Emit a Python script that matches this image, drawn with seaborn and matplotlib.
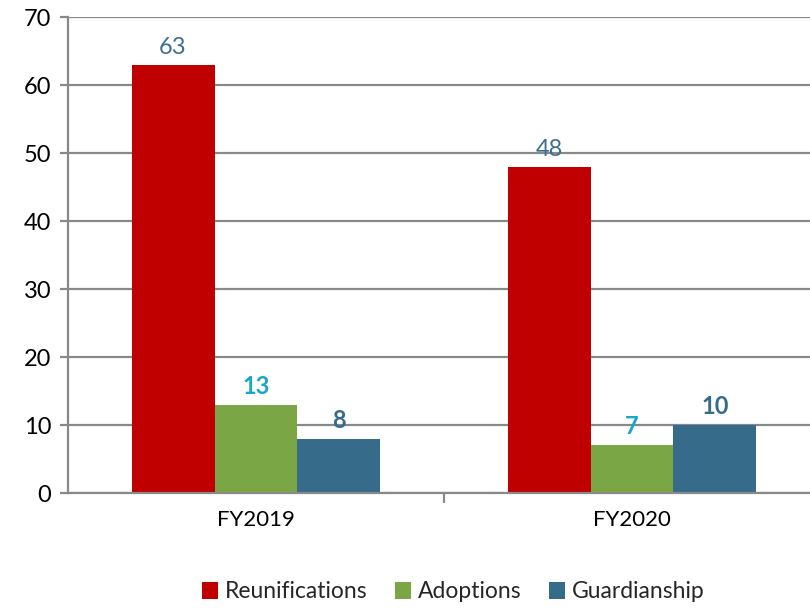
import matplotlib
matplotlib.use("Agg")
import matplotlib.pyplot as plt
import seaborn as sns
import pandas as pd
from matplotlib.patches import Patch

years = ["FY2019", "FY2020"]
series = ["Reunifications", "Adoptions", "Guardianship"]
reunifications = [63, 48]
adoptions = [13, 7]
guardianship = [8, 10]

colors = {"Reunifications": "#C00000", "Adoptions": "#7BA645", "Guardianship": "#376B8A"}
label_styles = {
    "Reunifications": dict(color="#3C6F8F", weight="normal"),
    "Adoptions": dict(color="#1AA6CC", weight="bold"),
    "Guardianship": dict(color="#376B8A", weight="bold"),
}

rows = []
for s, vals in zip(series, [reunifications, adoptions, guardianship]):
    for y, v in zip(years, vals):
        rows.append({"Year": y, "Series": s, "Value": v})
df = pd.DataFrame(rows)

sns.set_theme(style="white")
plt.rcParams["font.family"] = ["Lato", "DejaVu Sans"]

fig = plt.figure(figsize=(8.1, 6.08), dpi=100)
ax = fig.add_axes([68 / 810, 115 / 608, 752 / 810, 476 / 608])

sns.barplot(data=df, x="Year", y="Value", hue="Series", hue_order=series,
            palette=colors, width=0.662, ax=ax, legend=False, saturation=1,
            edgecolor="none", linewidth=0)

ax.set_xlim(-0.5, 1.5)
ax.set_ylim(0, 70)
ax.set_yticks(range(0, 71, 10))
ax.yaxis.grid(True, color="#898989", linewidth=1.6)
ax.set_axisbelow(True)
for side in ["top", "right"]:
    ax.spines[side].set_visible(False)
for side in ["left", "bottom"]:
    ax.spines[side].set_color("#898989")
    ax.spines[side].set_linewidth(1.6)

ax.tick_params(axis="y", which="major", length=6, width=1.6, color="#898989",
               labelsize=17, labelcolor="black", pad=6, left=True)
ax.tick_params(axis="x", which="major", length=0, labelsize=16, labelcolor="black", pad=12)
ax.set_xticks([0.5], minor=True)
ax.tick_params(axis="x", which="minor", length=7, width=1.6, color="#898989", bottom=True)
ax.set_xlabel("")
ax.set_ylabel("")

for container, s in zip(ax.containers, series):
    ax.bar_label(container, labels=[str(int(v)) for v in container.datavalues],
                 padding=5, fontsize=17, **label_styles[s])

handles = [Patch(facecolor=colors[s], edgecolor="none") for s in series]
fig.legend(handles, series, loc="center", bbox_to_anchor=(0.56, (608 - 592) / 608),
           ncol=3, frameon=False, fontsize=16.5, handlelength=0.7, handleheight=0.7,
           handletextpad=0.3, columnspacing=1.2)

fig.savefig("out.png", dpi=100)
